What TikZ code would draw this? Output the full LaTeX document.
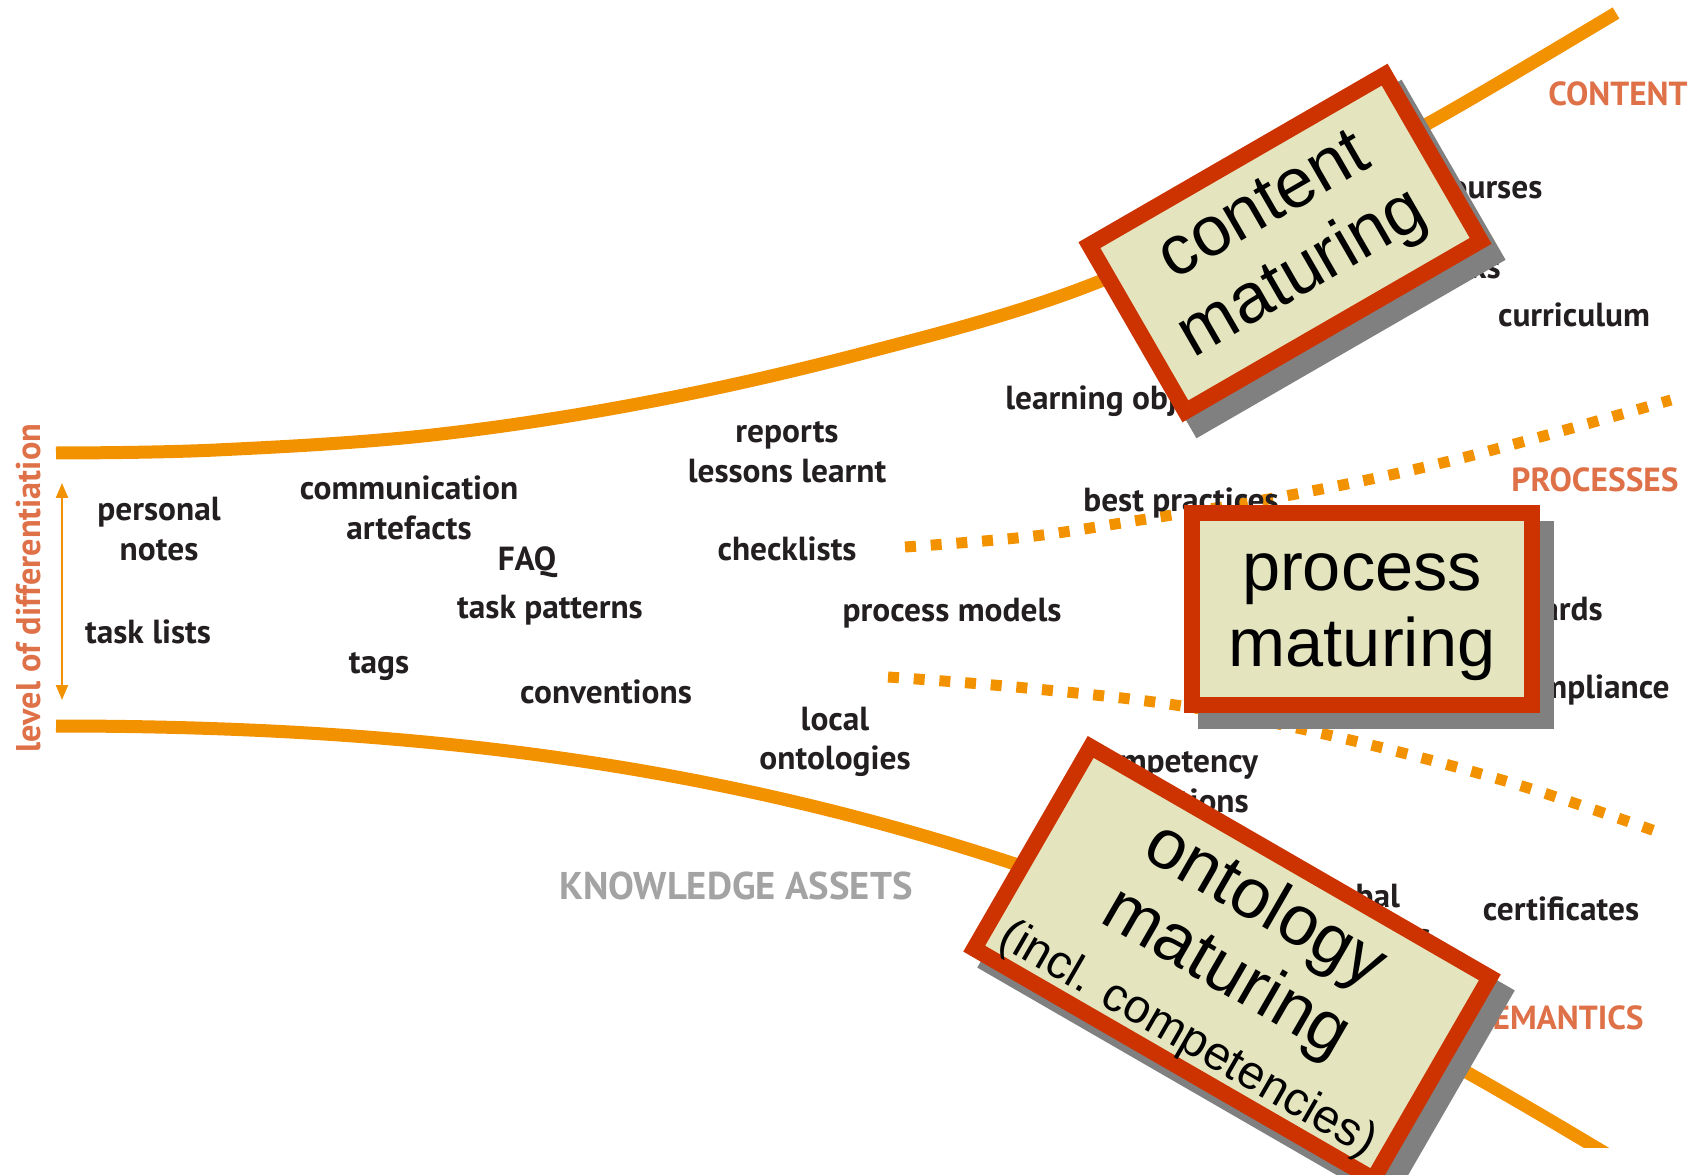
\documentclass[tikz,border=0pt]{standalone}
\usepackage{fontspec}
\newfontfamily\lblfont{PT Sans}
\newfontfamily\boxfont{Liberation Sans}
\usetikzlibrary{arrows.meta}
\definecolor{curvecol}{HTML}{F39200}
\definecolor{catcol}{HTML}{DF7148}
\definecolor{framecol}{HTML}{CC3300}
\definecolor{boxfill}{HTML}{E4E5BF}
\definecolor{shadecol}{HTML}{808080}
\definecolor{inkcol}{HTML}{231F20}
\definecolor{kacol}{HTML}{A3A3A3}
\tikzset{
  lbl/.style={font=\lblfont\bfseries\fontsize{19}{22.5}\selectfont, text=inkcol, align=center, inner sep=0pt},
  catlbl/.style={font=\lblfont\bfseries\fontsize{19}{22}\selectfont, text=catcol, inner sep=0pt},
  kalbl/.style={font=\lblfont\bfseries\fontsize{22}{24}\selectfont, text=kacol, inner sep=0pt},
  bandline/.style={draw=curvecol, line width=0.26cm, line cap=butt},
  dotline/.style={draw=curvecol, line width=0.22cm, line cap=butt, dash pattern=on 0.22cm off 0.295cm},
  mbox/.style={draw=framecol, line width=0.32cm, fill=boxfill, inner sep=0pt, align=center,
    font=\boxfont\fontsize{40}{44}\selectfont},
  shadowbox/.style={fill=shadecol, draw=none, inner sep=0pt},
  diffarrow/.style={draw=curvecol, line width=0.045cm, {Triangle[length=0.3cm,width=0.24cm]}-{Triangle[length=0.3cm,width=0.24cm]}}
}
\begin{document}
\begin{tikzpicture}[x=0.02cm, y=-0.02cm]
\useasboundingbox[fill=white] (0,0) rectangle (1693,1175);

% band curves
\draw[bandline] plot[smooth, tension=0.6] coordinates {(56,453) (216,450) (432,435) (648,402) (864,353) (1080,289) (1300,190) (1436,119) (1616,13)};
\begin{scope}
\clip (0,0) rectangle (1693,1147);
\draw[bandline] (56,726) .. controls (400,726) and (700,760) .. (1015,864)
                .. controls (1250,942) and (1470,1072) .. (1620,1162);
\end{scope}
\draw[dotline] plot[smooth, tension=0.6] coordinates {(905,547) (1026,537) (1134,521) (1296,494) (1458,459) (1671,400)};
\draw[dotline] plot[smooth, tension=0.6] coordinates {(888,677) (1026,688) (1188,707) (1350,740) (1512,783) (1655,831)};

% differentiation arrow
\coordinate (atop) at (62,483);
\coordinate (abot) at (62,700);
\draw[diffarrow] (atop) -- (abot);
\node[catlbl, rotate=90, font=\lblfont\bfseries\fontsize{19.5}{22}\selectfont] (lod) at (29,588) {level of differentiation};

% labels
\node[lbl] (pn) at (159,529) {personal\\notes};
\node[lbl] (tl) at (148,632) {task lists};
\node[lbl] (ca) at (409,508) {communication\\artefacts};
\node[lbl] (faq) at (527,562) {FAQ};
\node[lbl] (tp) at (550,610) {task patterns};
\node[lbl] (tags) at (379,667) {tags};
\node[lbl] (conv) at (606,692) {conventions};
\node[lbl] (rep) at (787,452) {reports\\lessons learnt};
\node[lbl] (chk) at (787,549) {checklists};
\node[lbl] (pm) at (952,613) {process models};
\node[lbl] (lo) at (835,742) {local\\ontologies};
\node[lbl, anchor=west] (lobj) at (1005,401) {learning objects};
\node[lbl, anchor=west] (bp) at (1083,503) {best practices};
\node[lbl] (crs) at (1489,190) {courses};
\node[lbl, anchor=east] (tb) at (1501,267) {textbooks};
\node[lbl] (cur) at (1574,315) {curriculum};
\node[lbl, anchor=east] (ps) at (1603,612) {process standards};
\node[lbl, anchor=east] (comp) at (1670,690) {compliance};
\node[lbl] (cd) at (1173,782) {competency\\definitions};
\node[lbl] (go) at (1355,919) {global\\ontologies};
\node[lbl] (cert) at (1561,909) {certificates};

\node[catlbl] (content) at (1618,94) {CONTENT};
\node[catlbl] (processes) at (1595,480) {PROCESSES};
\node[catlbl, anchor=east] (semantics) at (1644,1018) {SEMANTICS};
\node[kalbl] (ka) at (736,886) {KNOWLEDGE ASSETS};

% maturing boxes
\node[shadowbox, minimum width=7.14cm, minimum height=4.16cm, rotate=30] (cshadow) at (1299,259) {};
\node[mbox, minimum width=6.82cm, minimum height=3.84cm, rotate=30] (cbox) at (1285,243) {content\\maturing};

\node[shadowbox, minimum width=7.14cm, minimum height=4.16cm] (pshadow) at (1376,625) {};
\node[mbox, minimum width=6.82cm, minimum height=3.84cm, font=\boxfont\fontsize{39}{43}\selectfont] (pbox) at (1362,609) {\rule{0pt}{30pt}process\\maturing};

\node[shadowbox, minimum width=9.54cm, minimum height=4.98cm, rotate=-30] (oshadow) at (1246,979) {};
\node[mbox, minimum width=9.22cm, minimum height=4.66cm, rotate=-30] (obox) at (1232,963) {\rule{0pt}{37pt}ontology\\maturing\\[-4pt]{\fontsize{27}{30}\selectfont(incl. competencies)}};
\end{tikzpicture}
\end{document}
